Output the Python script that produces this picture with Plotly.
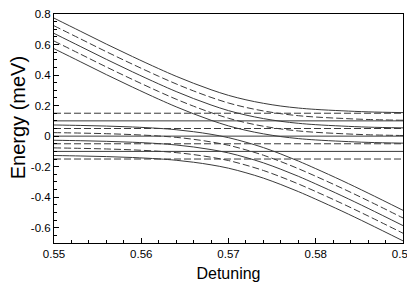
import plotly.graph_objects as go

# Detuning grid
detuning = [0.550, 0.553, 0.556, 0.559, 0.562, 0.564, 0.566, 0.568, 0.570,
            0.572, 0.574, 0.576, 0.578, 0.580, 0.583, 0.586, 0.590]

# Upper branches (from top-left diagonal, flattening at right)
upper_0 = [0.773, 0.688, 0.603, 0.521, 0.442, 0.392, 0.346, 0.304, 0.267, 0.238, 0.215, 0.197, 0.184, 0.175, 0.166, 0.159, 0.154]
upper_1 = [0.723, 0.638, 0.553, 0.471, 0.392, 0.342, 0.296, 0.254, 0.217, 0.188, 0.165, 0.147, 0.134, 0.125, 0.116, 0.109, 0.104]
upper_2 = [0.673, 0.588, 0.503, 0.421, 0.342, 0.292, 0.246, 0.204, 0.167, 0.138, 0.115, 0.097, 0.084, 0.075, 0.066, 0.059, 0.054]
upper_3 = [0.623, 0.538, 0.453, 0.371, 0.292, 0.242, 0.196, 0.154, 0.117, 0.088, 0.065, 0.047, 0.034, 0.025, 0.016, 0.009, 0.004]
upper_4 = [0.573, 0.488, 0.403, 0.321, 0.242, 0.192, 0.146, 0.104, 0.067, 0.038, 0.015, -0.003, -0.016, -0.025, -0.034, -0.041, -0.046]

# Lower branches (flat at left, bending down to bottom-right diagonal)
lower_0 = [0.073, 0.070, 0.066, 0.060, 0.051, 0.042, 0.029, 0.012, -0.010, -0.040, -0.075, -0.117, -0.163, -0.213, -0.291, -0.373, -0.486]
lower_1 = [0.023, 0.020, 0.016, 0.010, 0.001, -0.008, -0.021, -0.038, -0.060, -0.090, -0.125, -0.167, -0.213, -0.263, -0.341, -0.423, -0.536]
lower_2 = [-0.027, -0.030, -0.034, -0.040, -0.049, -0.058, -0.071, -0.088, -0.110, -0.140, -0.175, -0.217, -0.263, -0.313, -0.391, -0.473, -0.586]
lower_3 = [-0.077, -0.080, -0.084, -0.090, -0.099, -0.108, -0.121, -0.138, -0.160, -0.190, -0.225, -0.267, -0.313, -0.363, -0.441, -0.523, -0.636]
lower_4 = [-0.127, -0.130, -0.134, -0.140, -0.149, -0.158, -0.171, -0.188, -0.210, -0.240, -0.275, -0.317, -0.363, -0.413, -0.491, -0.573, -0.686]

branch_styles = ["solid", "dash", "solid", "dash", "solid"]

# Flat reference levels
flat_levels = [0.15, 0.10, 0.05, 0.0, -0.05, -0.10, -0.15]
flat_styles = ["dash", "solid", "dash", "solid", "dash", "solid", "dash"]
x_span = [0.55, 0.59]

y_tickvals = [0.8, 0.6, 0.4, 0.2, 0.0, -0.2, -0.4, -0.6]
y_ticktext = ["0.8", "0.6", "0.4", "0.2", "0", "-0.2", "-0.4", "-0.6"]
x_tickvals = [0.55, 0.56, 0.57, 0.58, 0.59]
x_ticktext = ["0.55", "0.56", "0.57", "0.58", "0.59"]

LINE_COLOR = "#3a3a3a"
DASH = "7px,3px"

def dash_of(s):
    return DASH if s == "dash" else "solid"

fig = go.Figure()

for lvl, st in zip(flat_levels, flat_styles):
    fig.add_trace(go.Scatter(x=x_span, y=[lvl, lvl], mode="lines",
                             line=dict(color=LINE_COLOR, width=1, dash=dash_of(st)),
                             showlegend=False, hoverinfo="skip"))

uppers = [upper_0, upper_1, upper_2, upper_3, upper_4]
lowers = [lower_0, lower_1, lower_2, lower_3, lower_4]
for ys, st in zip(uppers, branch_styles):
    fig.add_trace(go.Scatter(x=detuning, y=ys, mode="lines", line_shape="spline",
                             line=dict(color=LINE_COLOR, width=1, dash=dash_of(st)),
                             showlegend=False, hoverinfo="skip"))
for ys, st in zip(lowers, branch_styles):
    fig.add_trace(go.Scatter(x=detuning, y=ys, mode="lines", line_shape="spline",
                             line=dict(color=LINE_COLOR, width=1, dash=dash_of(st)),
                             showlegend=False, hoverinfo="skip"))

FONT = "Liberation Sans, Arial, Helvetica, sans-serif"

# The page body keeps its default 8px margin, so the figure is sized/offset to
# compensate and to avoid any page scrolling.
fig.update_layout(
    width=407, height=274,
    margin=dict(l=46, r=12, t=6, b=39),
    paper_bgcolor="white", plot_bgcolor="white",
    font=dict(family=FONT, color="black", size=12),
    xaxis=dict(range=[0.55, 0.59], tickvals=x_tickvals, ticktext=x_ticktext,
               ticks="inside", ticklen=5, tickcolor="black", tickwidth=1,
               showline=True, linecolor="black", linewidth=1, mirror=True,
               showgrid=False, zeroline=False, automargin=False,
               ticklabeloverflow="allow",
               tickfont=dict(size=11.5, family=FONT),
               minor=dict(dtick=0.002, ticks="inside", ticklen=3, tickcolor="black", showgrid=False),
               title=dict(text="Detuning", font=dict(size=16, family=FONT), standoff=16)),
    yaxis=dict(range=[-0.7, 0.8], tickvals=y_tickvals, ticktext=y_ticktext,
               ticks="inside", ticklen=5, tickcolor="black", tickwidth=1,
               showline=True, linecolor="black", linewidth=1, mirror=True,
               showgrid=False, zeroline=False, automargin=False,
               ticklabeloverflow="allow",
               tickfont=dict(size=11.5, family=FONT),
               minor=dict(dtick=0.05, ticks="inside", ticklen=3, tickcolor="black", showgrid=False)),
    annotations=[dict(text="Energy (meV)", textangle=-90, showarrow=False,
                      xref="paper", yref="paper", x=-0.103, y=0.545,
                      xanchor="center", yanchor="middle",
                      font=dict(size=20, family=FONT, color="black"))],
)

fig.write_html("out.html")
